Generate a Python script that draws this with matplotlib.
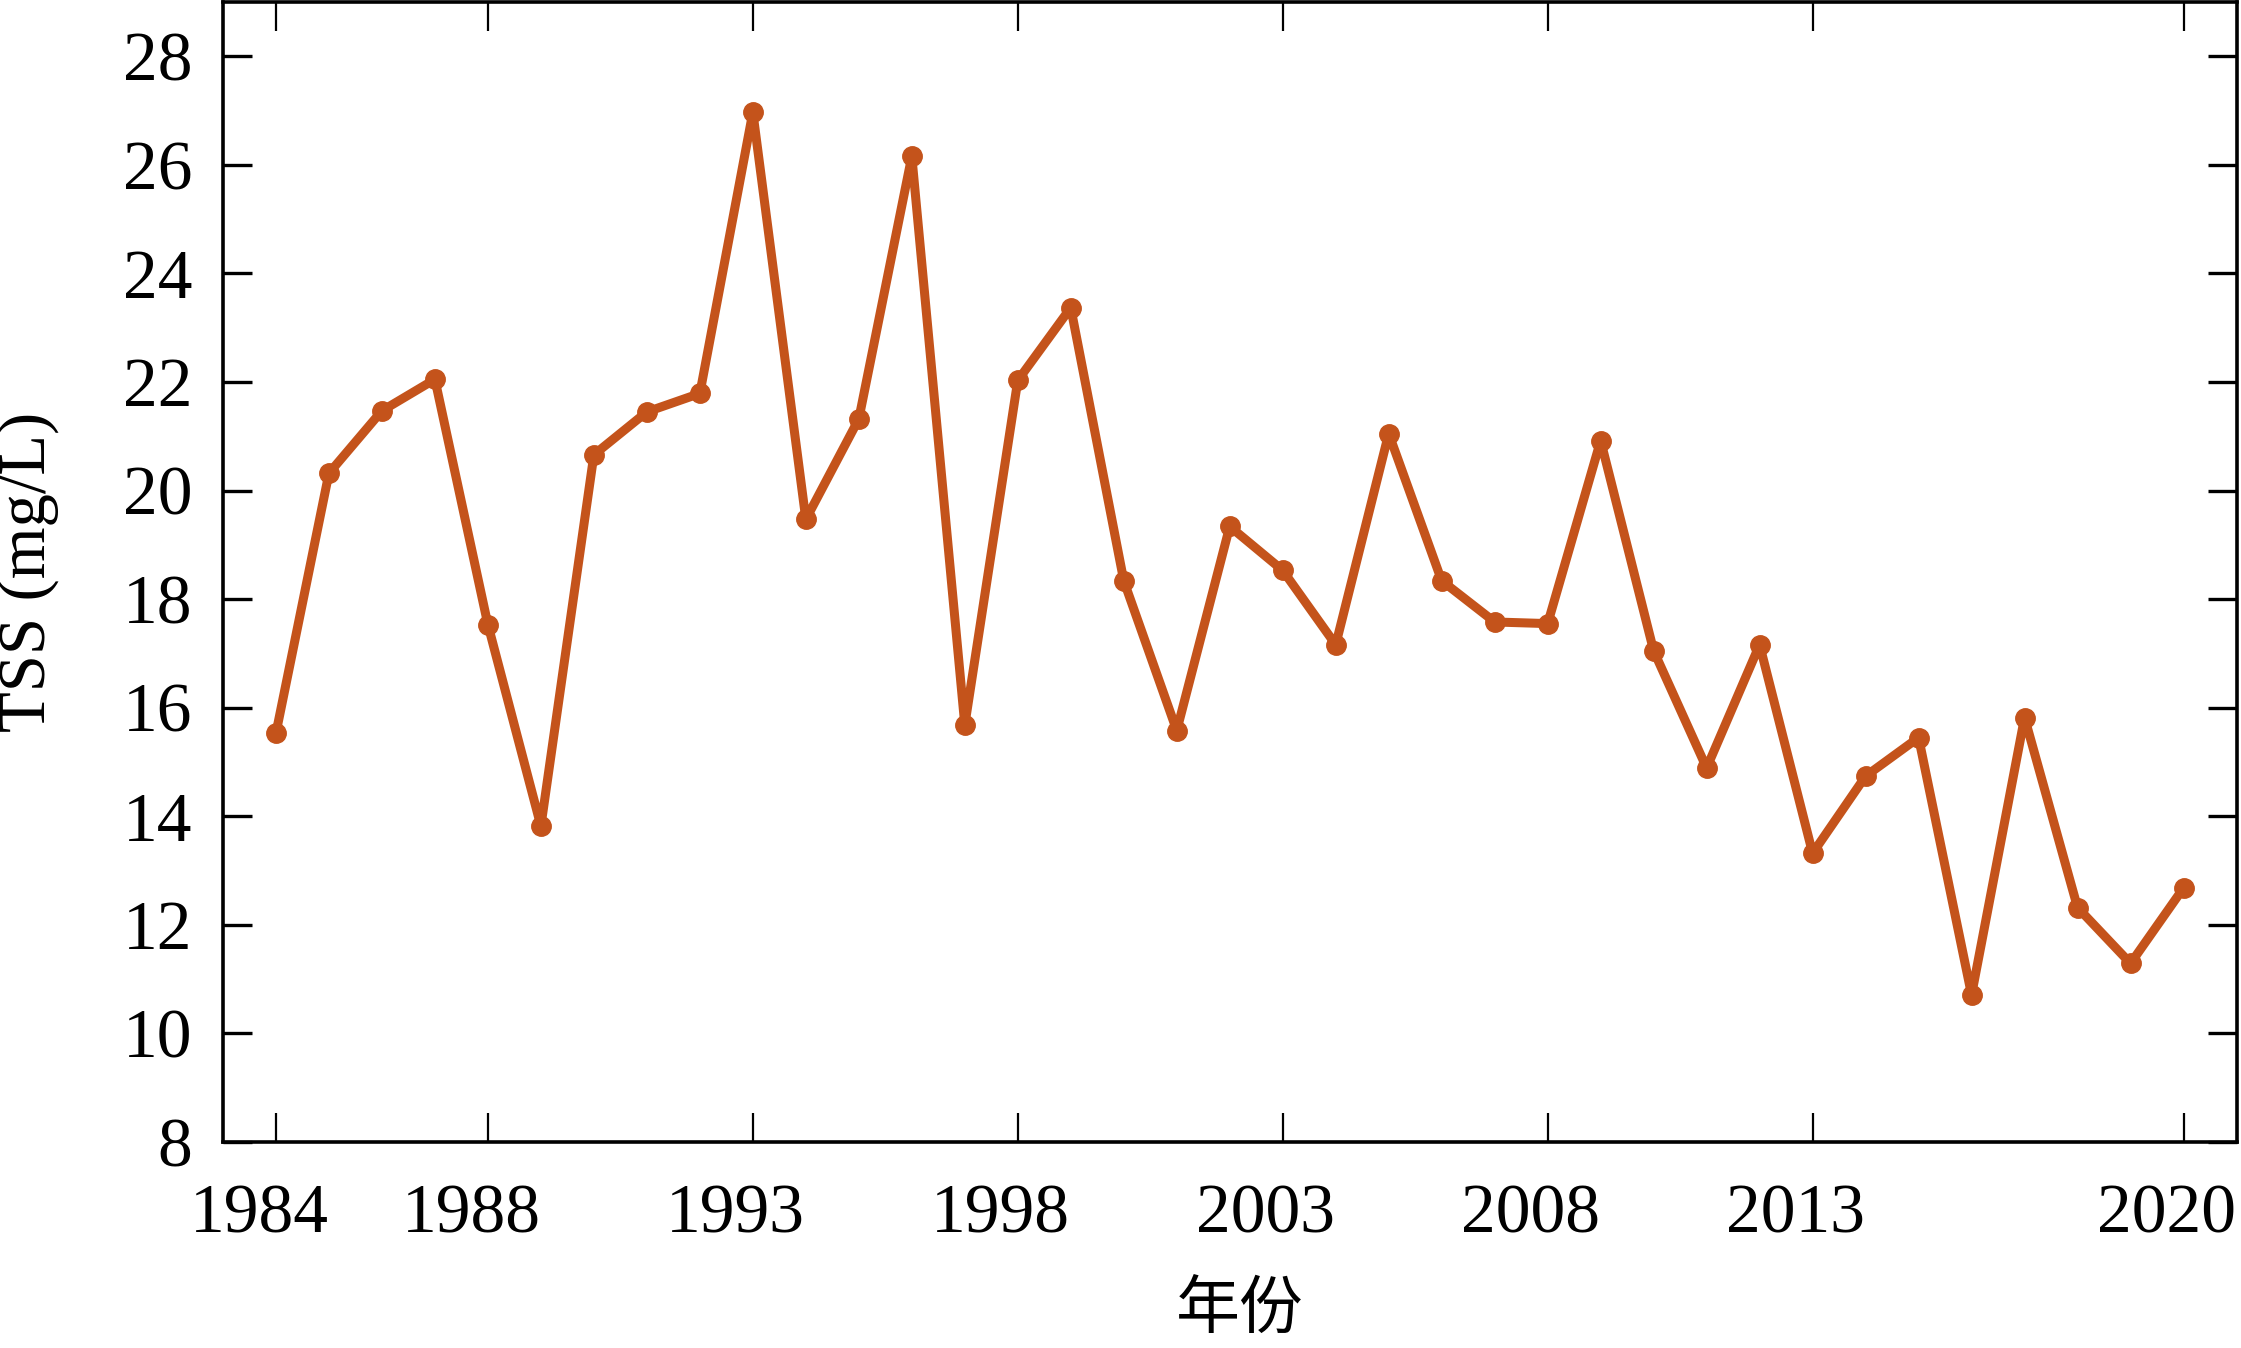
import numpy as np
import matplotlib
matplotlib.use("Agg")
import matplotlib.pyplot as plt
import matplotlib.transforms as mtransforms

# yearly TSS values
years = list(range(1984, 2021))
tss = [15.53, 20.32, 21.47, 22.05, 17.53, 13.82, 20.66, 21.45, 21.79, 26.97,
       19.47, 21.32, 26.16, 15.68, 22.03, 23.37, 18.34, 15.58, 19.34, 18.53,
       17.16, 21.05, 18.34, 17.58, 17.55, 20.92, 17.05, 14.89, 17.16, 13.32,
       14.74, 15.45, 10.71, 15.82, 12.32, 11.29, 12.68]
xticks = [1984, 1988, 1993, 1998, 2003, 2008, 2013, 2020]
yticks = list(range(8, 29, 2))

line_color = "#C4531B"

plt.rcParams["font.family"] = ["Liberation Serif", "DejaVu Serif"]

fig = plt.figure(figsize=(22.41, 13.48), dpi=100)
ax = fig.add_axes([0.0995, 0.1528, 0.8985, 0.8457])

ax.plot(years, tss, color=line_color, linewidth=6.5, marker="o", markersize=14)

ax.set_xlim(1983, 2021)
ax.set_ylim(8, 29)
ax.set_xticks(xticks)
ax.set_yticks(yticks)

for side in ax.spines.values():
    side.set_linewidth(2.6)

ax.tick_params(axis="both", direction="in", length=21, width=2.4,
               top=True, right=True, labelsize=50)
ax.tick_params(axis="x", width=1.6, pad=30)
ax.tick_params(axis="y", pad=22)

# x tick labels sit a bit left of their ticks in the original
shift = mtransforms.ScaledTranslation(-0.17, 0, fig.dpi_scale_trans)
for lbl in ax.get_xticklabels():
    lbl.set_transform(lbl.get_transform() + shift)

ax.set_ylabel("TSS (mg/L)", fontsize=48)
ax.yaxis.set_label_coords(-0.0815, 0.5)
ax.set_xlabel("年份", fontsize=46, family=["Noto Sans CJK SC", "DejaVu Sans"])
ax.xaxis.set_label_coords(0.505, -0.119)

fig.savefig("out.png", dpi=100)
